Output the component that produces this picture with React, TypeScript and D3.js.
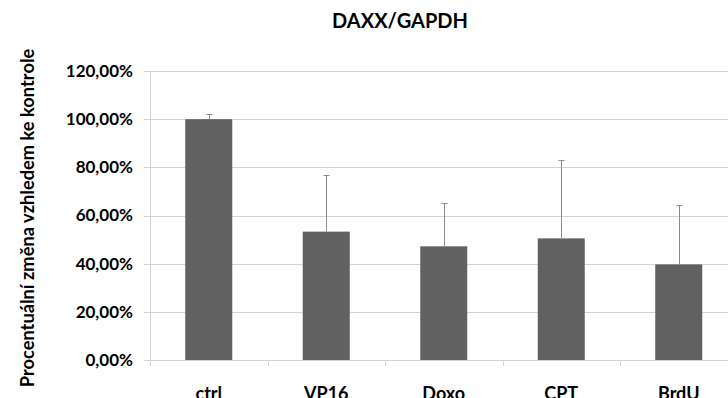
import React, { useEffect, useRef } from 'react';
import * as d3 from 'd3';

const categories = ['ctrl', 'VP16', 'Doxo', 'CPT', 'BrdU'];
const means = [1.0, 0.533, 0.472, 0.505, 0.397];
const errorTops = [1.022, 0.768, 0.65, 0.831, 0.644];
const yTicks = [0, 0.2, 0.4, 0.6, 0.8, 1.0, 1.2];

const W = 728;
const H = 398;

const App = () => {
    const svgRef = useRef<SVGSVGElement>(null);

    useEffect(() => {
        const svg = d3.select(svgRef.current);
        svg.selectAll('*').remove();

        const font = 'Lato, "Open Sans", sans-serif';
        const left = 150;
        const bandW = 117.5;
        const top = 71;
        const bottom = 360;

        const x = d3.scaleBand<string>()
            .domain(categories)
            .range([left, left + bandW * categories.length])
            .paddingInner(0.6)
            .paddingOuter(0.3);
        const y = d3.scaleLinear().domain([0, 1.2]).range([bottom, top]);

        svg.append('rect').attr('width', W).attr('height', H).attr('fill', '#fff');

        // gridlines + y ticks
        svg.append('g')
            .selectAll('line')
            .data(yTicks)
            .enter()
            .append('line')
            .attr('x1', left - 6)
            .attr('x2', W)
            .attr('y1', d => Math.round(y(d)) + 0.5)
            .attr('y2', d => Math.round(y(d)) + 0.5)
            .attr('stroke', '#d4d4d4')
            .attr('stroke-width', 1);

        // y axis line
        svg.append('line')
            .attr('x1', left + 0.5).attr('x2', left + 0.5)
            .attr('y1', top).attr('y2', bottom)
            .attr('stroke', '#d4d4d4');

        // x ticks at category boundaries
        const bounds = d3.range(categories.length + 1).map(i => left + i * bandW);
        svg.append('g')
            .selectAll('line')
            .data(bounds)
            .enter()
            .append('line')
            .attr('x1', d => Math.round(d) + 0.5)
            .attr('x2', d => Math.round(d) + 0.5)
            .attr('y1', bottom)
            .attr('y2', bottom + 6)
            .attr('stroke', '#d4d4d4');

        const fmt = (v: number) => (v * 100).toFixed(2).replace('.', ',') + '%';

        svg.append('g')
            .selectAll('text')
            .data(yTicks)
            .enter()
            .append('text')
            .attr('x', 133)
            .attr('y', d => y(d))
            .attr('dy', '0.35em')
            .attr('text-anchor', 'end')
            .style('font-family', font)
            .style('font-weight', 'bold')
            .style('font-size', '17px')
            .text(d => fmt(d));

        // bars
        svg.append('g')
            .selectAll('rect')
            .data(categories)
            .enter()
            .append('rect')
            .attr('x', d => x(d)!)
            .attr('width', x.bandwidth())
            .attr('y', (d, i) => y(means[i]))
            .attr('height', (d, i) => bottom - y(means[i]))
            .attr('fill', '#616161');

        // error bars
        const err = svg.append('g').attr('stroke', '#8c8c8c').attr('stroke-width', 1);
        categories.forEach((c, i) => {
            const cx = Math.round(x(c)! + x.bandwidth() / 2) + 0.5;
            err.append('line')
                .attr('x1', cx).attr('x2', cx)
                .attr('y1', y(means[i])).attr('y2', y(errorTops[i]));
            err.append('line')
                .attr('x1', cx - 3).attr('x2', cx + 3)
                .attr('y1', Math.round(y(errorTops[i])) + 0.5)
                .attr('y2', Math.round(y(errorTops[i])) + 0.5);
        });

        // x labels (cut off at the bottom edge, as in the reference)
        svg.append('g')
            .selectAll('text')
            .data(categories)
            .enter()
            .append('text')
            .attr('x', d => x(d)! + x.bandwidth() / 2)
            .attr('y', 400)
            .attr('text-anchor', 'middle')
            .style('font-family', font)
            .style('font-weight', 'bold')
            .style('font-size', '18px')
            .text(d => d);

        // title
        svg.append('text')
            .attr('x', 400)
            .attr('y', 28)
            .attr('text-anchor', 'middle')
            .style('font-family', font)
            .style('font-weight', 'bold')
            .style('font-size', '20px')
            .text('DAXX/GAPDH');

        // y axis title
        svg.append('text')
            .attr('transform', 'translate(34,218) rotate(-90)')
            .attr('text-anchor', 'middle')
            .style('font-family', font)
            .style('font-weight', 'bold')
            .style('font-size', '18.3px')
            .text('Procentuální změna vzhledem ke kontrole');
    }, []);

    return (
        <svg
            ref={svgRef}
            width={W}
            height={H}
            style={{ position: 'absolute', left: 0, top: 0, display: 'block' }}
        />
    );
};

export default App;
